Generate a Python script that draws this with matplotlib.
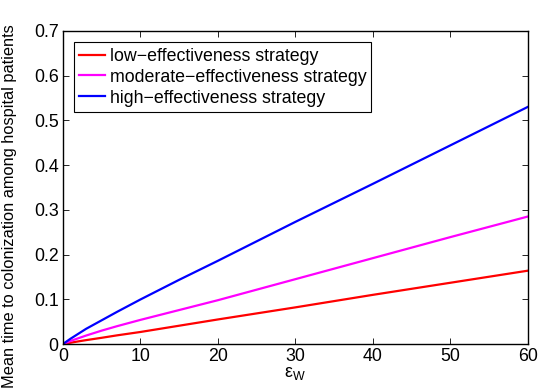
import numpy as np
import matplotlib
matplotlib.use('Agg')
import matplotlib.pyplot as plt

plt.rcParams['font.family'] = ['Liberation Sans', 'DejaVu Sans']
plt.rcParams['mathtext.fontset'] = 'custom'
plt.rcParams['mathtext.rm'] = 'Liberation Sans'
plt.rcParams['mathtext.it'] = 'Liberation Sans'

eps_w = [0, 1, 2, 3, 5, 7, 10, 15, 20, 30, 40, 50, 60]
low = [0, 0.003, 0.006, 0.0088, 0.014, 0.0195, 0.027, 0.041, 0.055,
       0.082, 0.110, 0.137, 0.164]
moderate = [0, 0.007, 0.013, 0.019, 0.030, 0.040, 0.054, 0.076, 0.098,
            0.145, 0.192, 0.239, 0.285]
high = [0, 0.012, 0.023, 0.034, 0.053, 0.072, 0.0995, 0.1435, 0.186,
        0.273, 0.358, 0.444, 0.530]
labels = ['low\u2212effectiveness strategy',
          'moderate\u2212effectiveness strategy',
          'high\u2212effectiveness strategy']

fig = plt.figure(figsize=(5.46, 3.91), dpi=100)
ax = fig.add_axes([0.115, 0.12, 0.8515, 0.801])

ax.plot(eps_w, low, color='#ff0000', lw=1.6, label=labels[0])
ax.plot(eps_w, moderate, color='#ff00ff', lw=1.6, label=labels[1])
ax.plot(eps_w, high, color='#0000ff', lw=1.6, label=labels[2])

ax.set_xlim(0, 60)
ax.set_ylim(0, 0.7)
ax.set_xticks(np.arange(0, 61, 10))
ax.set_yticks(np.arange(0, 0.71, 0.1))
ax.set_yticklabels(['0', '0.1', '0.2', '0.3', '0.4', '0.5', '0.6', '0.7'])
ax.tick_params(direction='in', top=True, right=True, length=4, width=0.6,
               labelsize=12.8, pad=3)
for s in ax.spines.values():
    s.set_linewidth(1.0)

ax.set_xlabel('\u03b5$_\\mathrm{W}$', fontsize=12.8, labelpad=0)
ax.set_ylabel('Mean time to colonization among hospital patients', fontsize=11.8, labelpad=3)
ax.yaxis.set_label_coords(-0.098, 0.44)

leg = ax.legend(loc='upper left', bbox_to_anchor=(0.024, 0.963), borderaxespad=0,
                fontsize=12.8, handlelength=1.45, handletextpad=0.25, labelspacing=0.22,
                borderpad=0.3, fancybox=False, framealpha=1, edgecolor='black')
leg.get_frame().set_linewidth(0.8)

plt.savefig('out.png', dpi=100)
